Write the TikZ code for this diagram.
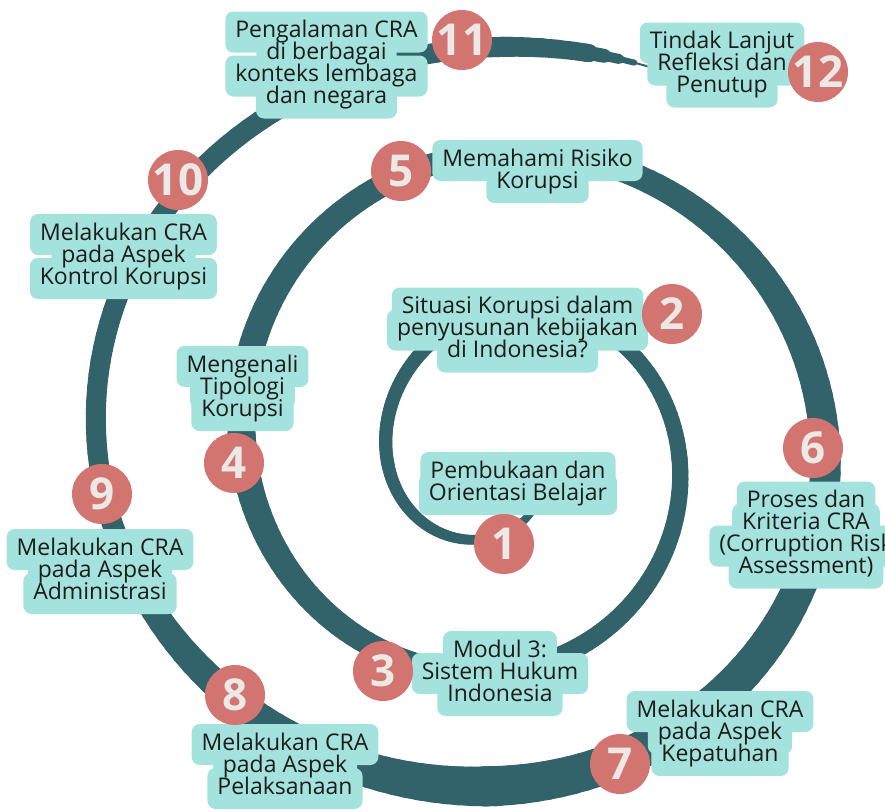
\documentclass[tikz,border=0pt]{standalone}
\usepackage{fontspec}
\setmainfont{Open Sans}
\usepackage{xcolor}

\definecolor{spiralteal}{RGB}{50,98,106}
\definecolor{boxmint}{RGB}{164,226,221}
\definecolor{badgered}{RGB}{210,116,112}
\definecolor{badgetext}{RGB}{236,232,230}
\definecolor{labeltext}{RGB}{28,28,28}

\begin{document}
\begin{tikzpicture}[x=1pt,y=-1pt,
  declare function={
    sx(\t)=497-(72.5+0.405*\t)*sin(\t);
    sm(\t)=472.45-32*(\t/360)+7.75*(\t/360)*(\t/360);
    sr(\t)=63.55+179*(\t/360)-18.75*(\t/360)*(\t/360);
    sy(\t)=sm(\t)+sr(\t)*cos(\t);
  },
  spiral/.style={draw=spiralteal, line cap=round},
  linebg/.style={fill=boxmint, rounded corners=8pt, inner xsep=10pt, inner ysep=9pt,
    text height=17pt, text depth=6pt, font=\fontsize{23}{22}\selectfont},
  linetxt/.style={inner xsep=10pt, inner ysep=9pt, text height=17pt, text depth=6pt,
    text=labeltext, font=\fontsize{23}{22}\selectfont},
  badge/.style={circle, fill=badgered, minimum size=60pt, inner sep=0pt,
    text=badgetext, font=\fontsize{44}{44}\selectfont\bfseries}
]
\useasboundingbox (0,0) rectangle (885,811);
\clip (0,0) rectangle (885,811);

\foreach \ta/\tb/\wa/\wb in {-45/90/7/13, 90/270/13/16, 270/360/16/20, 360/450/20/28,
  450/540/28/21, 540/630/21/30, 630/720/30/40, 720/800/40/20, 800/900/20/20,
  900/910/20/18, 910/918/18/2} {
  \pgfmathsetmacro\tc{\ta+2}
  \foreach \t in {\ta,\tc,...,\tb} {
    \pgfmathsetmacro\w{\wa+(\wb-\wa)*(\t-\ta)/(\tb-\ta)}
    \draw[spiral, line width=\w pt] ({sx(\t)},{sy(\t)}) -- ({sx(\t+2)},{sy(\t+2)});
  }
}

\foreach \nm/\cx/\cy/\n/\lines in {
  l1/518/483.5/2/{Pembukaan dan,Orientasi Belajar},
  l2/517.5/330/3/{Situasi Korupsi dalam,penyusunan kebijakan,di Indonesia?},
  l3/500/673.5/3/{Modul 3:,Sistem Hukum,Indonesia},
  l4/242.5/388.5/3/{Mengenali,Tipologi,Korupsi},
  l5/537.5/171.5/2/{Memahami Risiko,Korupsi},
  l6/806/535/4/{Proses dan,Kriteria CRA,{(Corruption Risk},Assessment)},
  l7/720/733.5/3/{Melakukan CRA,pada Aspek,Kepatuhan},
  l8/285/766.5/3/{Melakukan CRA,pada Aspek,Pelaksanaan},
  l9/100/571.5/3/{Melakukan CRA,pada Aspek,Administrasi},
  l10/123.5/256.5/3/{Melakukan CRA,pada Aspek,Kontrol Korupsi},
  l11/326.5/65/4/{Pengalaman CRA,di berbagai,konteks lembaga,dan negara},
  l12/722/65/3/{Tindak Lanjut,Refleksi dan,Penutup}} {
  \foreach \txt [count=\i] in \lines
    \node[linebg] (\nm bg\i) at (\cx,{\cy+(\i-(\n+1)/2)*22}) {\phantom{\txt}};
  \foreach \txt [count=\i] in \lines
    \node[linetxt] (\nm-\i) at (\cx,{\cy+(\i-(\n+1)/2)*22}) {\txt};
}

\foreach \k/\bx/\by in {1/504/544, 2/672/314, 3/383/671, 4/234/463, 5/401/171,
  6/813/448, 7/620/764, 8/235/695, 9/102/494, 10/178/180, 11/462/40, 12/818/72}
  \node[badge] (b\k) at (\bx,\by) {\k};
\end{tikzpicture}
\end{document}
